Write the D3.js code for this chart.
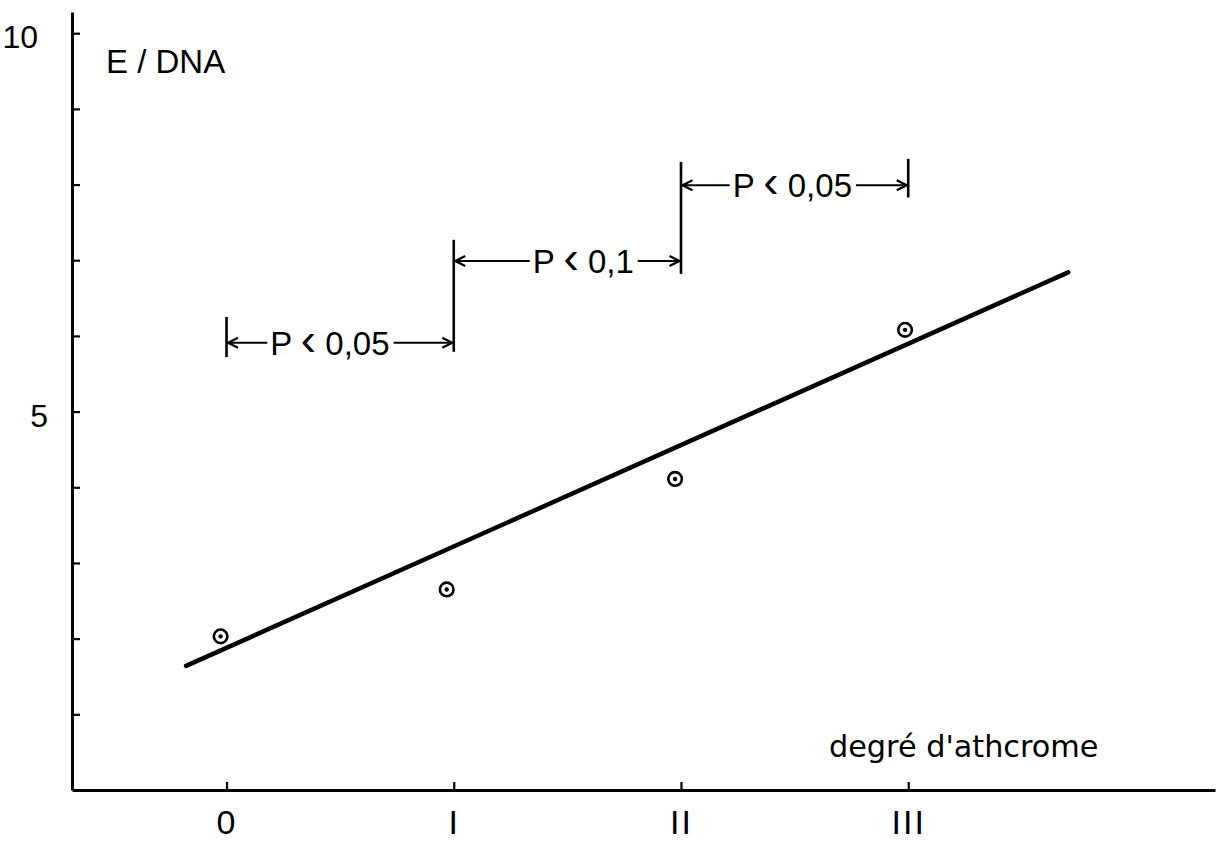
<!DOCTYPE html>
<html>
<head>
<meta charset="utf-8">
<script src="https://cdn.jsdelivr.net/npm/d3@7/dist/d3.min.js"></script>
<style>
  html, body { margin: 0; padding: 0; background: #fff; }
  svg { display: block; }
  text { fill: #000; }
</style>
</head>
<body>
<svg id="chart" width="1216" height="845"></svg>
<script>
// ---- data ----
const xCategories = ["0", "I", "II", "III"];
const xCategoryValues = [0, 1, 2, 3];
const yTickValues = [1, 2, 3, 4, 5, 6, 7, 8, 9, 10];
const yLabelValues = [5, 10];

const pointX = [-0.026, 0.969, 1.974, 2.986];
const pointY = [2.03, 2.65, 4.11, 6.08];

const fitX = [-0.178, 3.704];
const fitY = [1.64, 6.84];

const bracketFrom = [0, 1, 2];
const bracketTo = [1, 2, 3];
const bracketLevel = [5.91, 6.99, 7.99];
const bracketLabels = ["P \u2039 0,05", "P \u2039 0,1", "P \u2039 0,05"];
const bracketLabelX = [0.455, 1.57, 2.49];

const markerX = [0, 1, 2, 3];
const markerLow = [5.72, 5.79, 6.82, 7.83];
const markerHigh = [6.25, 7.27, 8.30, 8.34];

const yTitle = "E / DNA";
const xTitle = "degr\u00e9 d'athcrome";

// ---- layout ----
const svg = d3.select("#chart");
const x = d3.scaleLinear().domain([-0.68, 4.35]).range([72, 1215]);
const y = d3.scaleLinear().domain([0, 10.28]).range([790, 12]);
const numFont = "'Liberation Sans', Arial, sans-serif";

// y axis
const yAxis = svg.append("g")
  .attr("transform", `translate(${x(-0.68)},0)`)
  .call(d3.axisLeft(y).tickValues(yTickValues).tickSizeInner(-8).tickSizeOuter(0)
    .tickPadding(28)
    .tickFormat(d => yLabelValues.includes(d) ? String(d) : ""));
yAxis.select(".domain").attr("stroke", "#000").attr("stroke-width", 3);
yAxis.selectAll(".tick line").attr("stroke", "#000").attr("stroke-width", 2.2);
yAxis.selectAll(".tick text")
  .attr("font-family", numFont).attr("font-size", 32)
  .attr("x", d => d === 10 ? -34 : -24)
  .attr("dy", "0.45em");

// x axis
const xAxis = svg.append("g")
  .attr("transform", `translate(0,${y(0)})`)
  .call(d3.axisBottom(x).tickValues(xCategoryValues).tickSizeInner(-8).tickSizeOuter(0)
    .tickPadding(20)
    .tickFormat((d, i) => xCategories[i]));
xAxis.select(".domain").attr("stroke", "#000").attr("stroke-width", 3);
xAxis.selectAll(".tick line").attr("stroke", "#000").attr("stroke-width", 2.2);
xAxis.selectAll(".tick text")
  .attr("font-family", numFont).attr("font-size", 34)
  .attr("letter-spacing", 2)
  .attr("dy", "0.72em");

// titles
svg.append("text").attr("x", 106).attr("y", 73)
  .attr("font-family", numFont).attr("font-size", 33).text(yTitle);
svg.append("text").attr("x", 829).attr("y", 757)
  .attr("font-family", "'DejaVu Sans', sans-serif").attr("font-size", 30.3).text(xTitle);

// regression line
const fit = fitX.map((v, i) => [v, fitY[i]]);
svg.append("path")
  .attr("d", d3.line().x(d => x(d[0])).y(d => y(d[1]))(fit))
  .attr("fill", "none").attr("stroke", "#000").attr("stroke-width", 4.5)
  .attr("stroke-linecap", "round");

// points
const pts = pointX.map((v, i) => ({ x: v, y: pointY[i] }));
const pg = svg.append("g");
pg.selectAll("circle.ring").data(pts).join("circle").attr("class", "ring")
  .attr("cx", d => x(d.x)).attr("cy", d => y(d.y)).attr("r", 6.8)
  .attr("fill", "#fff").attr("stroke", "#000").attr("stroke-width", 2.6);
pg.selectAll("circle.dot").data(pts).join("circle").attr("class", "dot")
  .attr("cx", d => x(d.x)).attr("cy", d => y(d.y)).attr("r", 2.2)
  .attr("fill", "#000");

// bracket verticals
const bg = svg.append("g");
bg.selectAll("line.marker").data(markerX).join("line").attr("class", "marker")
  .attr("x1", d => x(d)).attr("x2", d => x(d))
  .attr("y1", (d, i) => y(markerLow[i])).attr("y2", (d, i) => y(markerHigh[i]))
  .attr("stroke", "#000").attr("stroke-width", 2.6);

// bracket arrows with labels
bracketFrom.forEach((from, i) => {
  const yy = y(bracketLevel[i]);
  const x0 = x(from) + 1.5, x1 = x(bracketTo[i]) - 1.5;
  const t = bg.append("text")
    .attr("x", x(bracketLabelX[i])).attr("y", yy)
    .attr("text-anchor", "middle").attr("dy", "0.36em")
    .attr("font-family", numFont).attr("font-size", 33);
  const parts = bracketLabels[i].split("\u2039");
  t.append("tspan").text(parts[0]);
  t.append("tspan").attr("font-size", 46).text("\u2039");
  t.append("tspan").text(parts[1]);
  const bb = t.node().getBBox();
  const gapL = bb.x - 3, gapR = bb.x + bb.width + 4;
  bg.append("line").attr("x1", x0).attr("x2", gapL).attr("y1", yy).attr("y2", yy)
    .attr("stroke", "#000").attr("stroke-width", 2);
  bg.append("line").attr("x1", gapR).attr("x2", x1).attr("y1", yy).attr("y2", yy)
    .attr("stroke", "#000").attr("stroke-width", 2);
  // arrowheads
  bg.append("path")
    .attr("d", `M${x0 + 10},${yy - 5} L${x0},${yy} L${x0 + 10},${yy + 5}`)
    .attr("fill", "none").attr("stroke", "#000").attr("stroke-width", 2.2);
  bg.append("path")
    .attr("d", `M${x1 - 10},${yy - 5} L${x1},${yy} L${x1 - 10},${yy + 5}`)
    .attr("fill", "none").attr("stroke", "#000").attr("stroke-width", 2.2);
});
</script>
</body>
</html>
